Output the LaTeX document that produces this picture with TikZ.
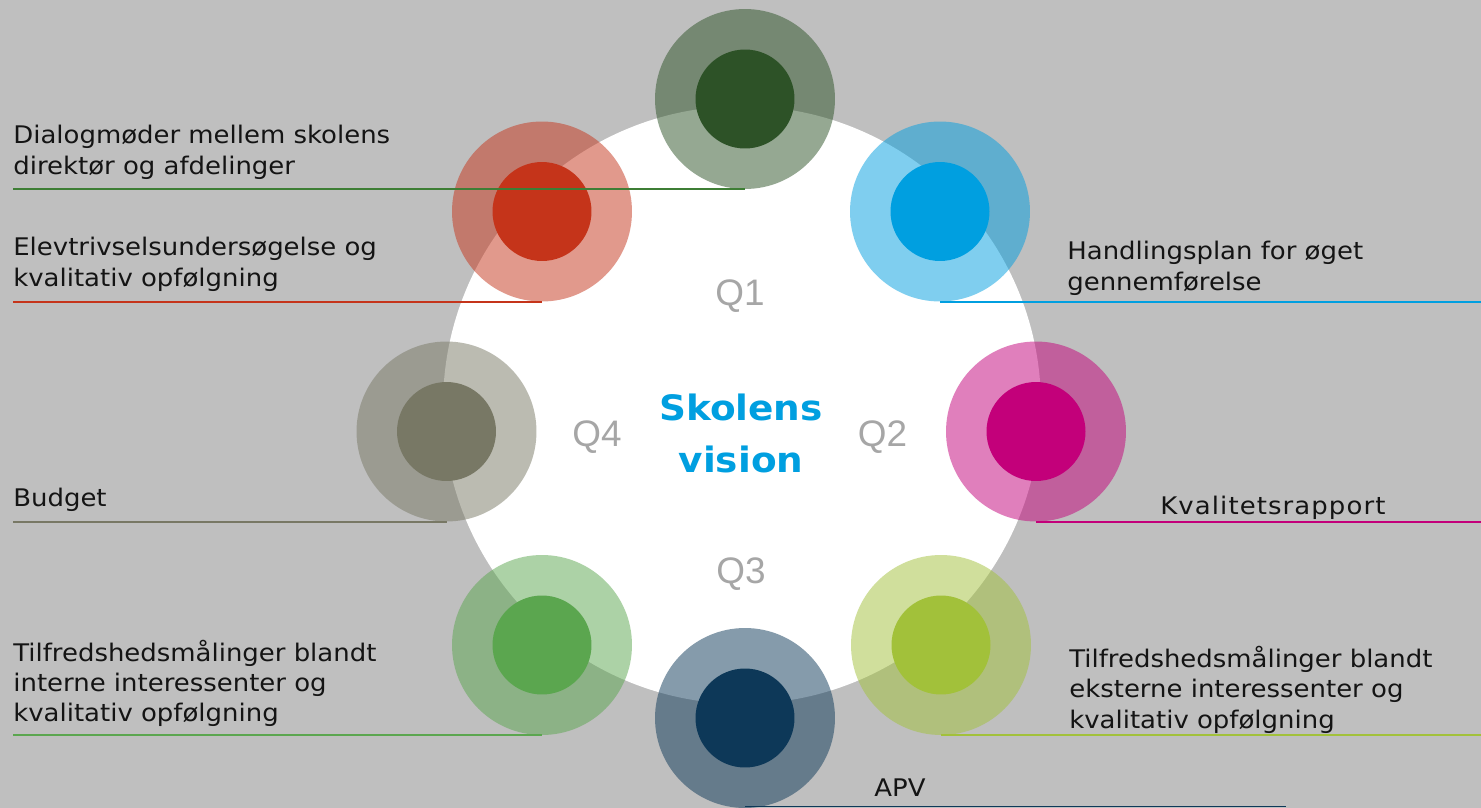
\documentclass[tikz,border=0pt]{standalone}
\usepackage{fontspec}
\setmainfont{DejaVu Sans}[FakeStretch=1.07]
\newfontfamily\qfont{Liberation Sans}
\usetikzlibrary{positioning}

\definecolor{bggray}{HTML}{BFBFBF}
\definecolor{qgray}{HTML}{A6A6A6}
\definecolor{textblack}{HTML}{141414}
\definecolor{cdgreen}{HTML}{2D5227}
\definecolor{dialogline}{HTML}{3E7E35}
\definecolor{cred}{HTML}{C5341A}
\definecolor{cblue}{HTML}{009FE0}
\definecolor{cmagenta}{HTML}{C3007A}
\definecolor{clime}{HTML}{A2C13A}
\definecolor{cnavy}{HTML}{0D3858}
\definecolor{cgreen}{HTML}{5BA64F}
\definecolor{colive}{HTML}{787865}

\begin{document}
\begin{tikzpicture}[
  x=0.02cm, y=-0.02cm,
  ring/.style={circle, inner sep=0pt, minimum size=3.6cm, fill=#1, fill opacity=0.5},
  dot/.style={circle, inner sep=0pt, minimum size=1.98cm, fill=#1},
  lead/.style={draw=#1, line width=1.1pt},
  desc/.style={anchor=base west, inner sep=0pt, align=left, text=textblack,
    font=\fontsize{13.8pt}{17.1pt}\selectfont},
  quarter/.style={anchor=base, inner sep=0pt, text=qgray,
    font=\qfont\fontsize{21pt}{21pt}\selectfont}
]%
  % Background and vision disc
  \useasboundingbox (0,0) rectangle (1481,808);
  \fill[bggray] (0,0) rectangle (1481,808);
  \fill[white] (742,405) circle [radius=5.98cm];

  % Rings
  \node[ring=cdgreen]  (dialogring)   at (745,99) {};
  \node[ring=cblue]    (handlingring) at (940,211.5) {};
  \node[ring=cmagenta] (kvalitetring) at (1036,431.5) {};
  \node[ring=clime]    (eksternring)  at (941,645) {};
  \node[ring=cnavy]    (apvring)      at (745,718) {};
  \node[ring=cgreen]   (internring)   at (542,645) {};
  \node[ring=colive]   (budgetring)   at (446.5,431.5) {};
  \node[ring=cred]     (elevring)     at (542,211.5) {};

  % Dots
  \node[dot=cdgreen]  (dialogdot)   at (dialogring) {};
  \node[dot=cblue]    (handlingdot) at (handlingring) {};
  \node[dot=cmagenta] (kvalitetdot) at (kvalitetring) {};
  \node[dot=clime]    (eksterndot)  at (eksternring) {};
  \node[dot=cnavy]    (apvdot)      at (apvring) {};
  \node[dot=cgreen]   (interndot)   at (internring) {};
  \node[dot=colive]   (budgetdot)   at (budgetring) {};
  \node[dot=cred]     (elevdot)     at (elevring) {};

  % Vision and quarters (base = last line)
  \node[anchor=base, inner sep=0pt, align=center, text=cblue,
    font=\bfseries\fontsize{19.9pt}{29.6pt}\selectfont] (vision) at (741,472.5) {Skolens\\vision};
  \node[quarter] (q1) at (740,305) {Q1};
  \node[quarter] (q2) at (882.5,446.7) {Q2};
  \node[quarter] (q3) at (741,583) {Q3};
  \node[quarter] (q4) at (597,446.7) {Q4};

  % Descriptions
  \node[desc] (dialogtext)   at (13,174)  {Dialogmøder mellem skolens\\direktør og afdelinger};
  \node[desc] (elevtext)     at (13,286)  {Elevtrivselsundersøgelse og\\kvalitativ opfølgning};
  \node[desc] (handlingtext) at (1067,290) {Handlingsplan for øget\\gennemførelse};
  \node[desc] (budgettext)   at (13,506)  {Budget};
  \node[desc] (kvalitettext) at (1160,514) {\addfontfeatures{LetterSpace=4.5}Kvalitetsrapport};
  \node[desc] (interntext)   at (13,721.5) {Tilfredshedsmålinger blandt\\interne interessenter og\\kvalitativ opfølgning};
  \node[desc] (eksterntext)  at (1069,728) {Tilfredshedsmålinger blandt\\eksterne interessenter og\\kvalitativ opfølgning};
  \node[desc] (apvtext)      at (874,796) {APV};

  % Leader lines
  \coordinate (rightedge) at (1481,0);
  \coordinate (apvend) at (1286,806.5);
  \draw[lead=dialogline] (dialogring.south) -- (dialogring.south -| dialogtext.west);
  \draw[lead=cred] (elevring.south) -- (elevring.south -| elevtext.west);
  \draw[lead=cblue] (handlingring.south) -- (handlingring.south -| rightedge);
  \draw[lead=cmagenta] (kvalitetring.south) -- (kvalitetring.south -| rightedge);
  \draw[lead=colive] (budgetring.south) -- (budgetring.south -| budgettext.west);
  \draw[lead=cgreen] (internring.south) -- (internring.south -| interntext.west);
  \draw[lead=clime] (eksternring.south) -- (eksternring.south -| rightedge);
  \draw[lead=cnavy] (apvend -| apvring.south) -- (apvend);
\end{tikzpicture}
\end{document}
